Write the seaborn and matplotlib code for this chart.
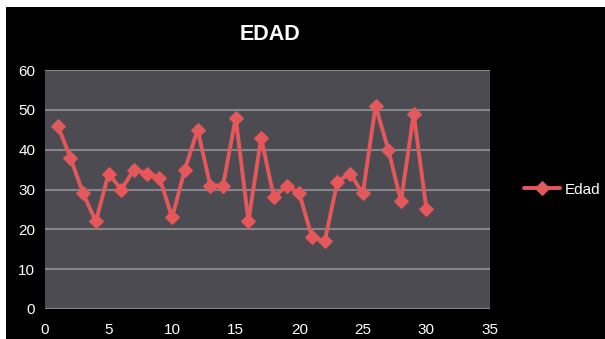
import matplotlib
matplotlib.use("Agg")
import matplotlib.pyplot as plt
import seaborn as sns
import pandas as pd
from matplotlib.patches import Rectangle

# data
muestra = list(range(1, 31))
edad = [46, 38, 29, 22, 34, 30, 35, 34, 33, 23,
        35, 45, 31, 31, 48, 22, 43, 28, 31, 29,
        18, 17, 32, 34, 29, 51, 40, 27, 49, 25]
x_ticks = [0, 5, 10, 15, 20, 25, 30, 35]
y_ticks = [0, 10, 20, 30, 40, 50, 60]

df = pd.DataFrame({"x": muestra, "Edad": edad})

sns.set_theme(style="dark")
plt.rcParams["font.family"] = ["Liberation Sans", "DejaVu Sans"]

fig = plt.figure(figsize=(6.05, 3.39), dpi=100, facecolor="white")
# black chart background with thin white margin top/left
fig.patches.append(Rectangle((6 / 605, 0), 1, 1 - 7 / 339, transform=fig.transFigure,
                             facecolor="black", edgecolor="none", zorder=-10))

ax = fig.add_axes([45 / 605, 30 / 339, 445 / 605, 239 / 339])
ax.set_facecolor("#4b4b51")

sns.lineplot(data=df, x="x", y="Edad", ax=ax, color="#e4585b", linewidth=2.8,
             marker="D", markersize=7, markeredgecolor="#e4585b", label="Edad")

ax.set_xlim(0, 35)
ax.set_ylim(0, 60)
ax.set_xticks(x_ticks)
ax.set_yticks(y_ticks)
ax.grid(True, axis="y", color="#85858b", linewidth=1.5)
ax.grid(False, axis="x")
for s in ax.spines.values():
    s.set_visible(False)
ax.tick_params(axis="both", colors="white", labelsize=11, length=0)
ax.tick_params(axis="x", pad=10)
ax.tick_params(axis="y", pad=7)
ax.set_xlabel("")
ax.set_ylabel("")

fig.text(270 / 605, 1 - 35 / 339, "EDAD", color="white", fontsize=15.5,
         fontweight="bold", ha="center", va="center")

leg = ax.legend(loc="center left", bbox_to_anchor=(1.045, 0.5), frameon=False,
                fontsize=11, handlelength=2.4, handletextpad=0.3)
for t in leg.get_texts():
    t.set_color("white")

fig.savefig("out.png", dpi=100, facecolor="white")
